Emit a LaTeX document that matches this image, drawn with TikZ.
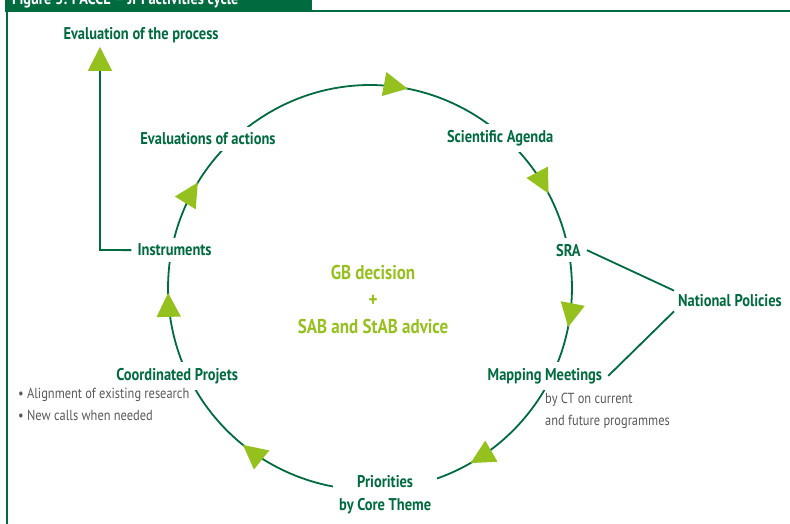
\documentclass[tikz,border=0pt]{standalone}
\usepackage{fontspec}
\setmainfont{PT Sans}[FakeStretch=0.85]
\usetikzlibrary{arrows.meta,decorations.markings}
\definecolor{jpigreen}{HTML}{006B3F}
\definecolor{jpilime}{HTML}{95C11F}
\definecolor{jpigrey}{HTML}{595959}
\pgfdeclarelayer{back}
\pgfsetlayers{back,main}

\begin{document}
\begin{tikzpicture}[x=1pt,y=1pt,>={Triangle[length=24pt,width=24pt,color=jpilime]},
  stage/.style={font=\bfseries\fontsize{17}{23}\selectfont,text=jpigreen,fill=white,inner sep=6pt,align=center},
  note/.style={font=\fontsize{14.6}{22}\selectfont,text=jpigrey,align=left,inner sep=0pt},
  link/.style={draw=jpigreen,line width=1.8pt},
  tipat/.style={decoration={markings,mark=at position #1 with {\arrow{>}}},postaction={decorate}}]
  \useasboundingbox (0,0) rectangle (790,524);
  % frame and title bar
  \fill[jpigreen] (5,512) rectangle (312,524);
  \begin{scope}
    \clip (5,512) rectangle (312,524);
    \node[anchor=base west,text=white,font=\bfseries\fontsize{17}{18}\selectfont,inner sep=0pt] (title) at (12,519) {Figure 3: FACCE -- JPI activities cycle};
  \end{scope}
  \draw[jpigreen,line width=2.5pt] (7,512) -- (7,0);
  \draw[jpigreen,line width=2.5pt] (312,512.75) -- (790,512.75);

  \coordinate (c) at (370,236);
  \foreach \ang/\name in {133.5/pEva,48/pSag,10.8/pSra,-25.8/pMap,-85.7/pPri,205.8/pCoo,169.2/pIns}
    \path (c) ++(\ang:202) coordinate (\name);

  \node[stage,xshift=-23pt,yshift=2.5pt] (eva) at (pEva) {Evaluations of actions};
  \node[stage,xshift=-5pt] (sag) at (pSag) {Scientific Agenda};
  \node[stage] (sra) at (pSra) {SRA};
  \node[stage,xshift=-7pt] (map) at (pMap) {Mapping Meetings};
  \node[stage,yshift=-5.5pt] (pri) at (pPri) {Priorities\\by Core Theme};
  \node[stage,xshift=-11pt] (coo) at (pCoo) {Coordinated Projets};
  \node[stage,xshift=3pt] (ins) at (pIns) {Instruments};
  \node[stage,inner sep=4pt] (nat) at (730,223) {National Policies};
  \node[stage,inner sep=4pt] (evp) at (141,489) {Evaluation of the process};
  \node[stage,fill=none,text=jpilime,font=\bfseries\fontsize{20}{27}\selectfont] (gb) at (373,224) {GB decision\\+\\SAB and StAB advice};
  \node[note,anchor=north west] (mapnote) at (545,131) {by CT on current\\and future programmes};
  \node[note,anchor=north west] (coonote) at (18,136) {\textbullet\ Alignment of existing research\\\textbullet\ New calls when needed};

  \begin{pgfonlayer}{back}
    \path[link]
      (pEva) edge[bend left=42.75,tipat=0.634] (pSag)
      (pSag) edge[bend left=18.6,looseness=0.87,tipat=0.54] (pSra)
      (pSra) edge[bend left=18.3,looseness=0.87,tipat=0.6] (pMap)
      (pMap) edge[bend left=30,looseness=0.91,tipat=0.573] (pPri)
      (pPri) edge[bend left=34.25,looseness=0.93,tipat=0.632] (pCoo)
      (pCoo) edge[bend left=18.3,looseness=0.87,tipat=0.667] (pIns)
      (pIns) edge[bend left=17.85,looseness=0.87,tipat=0.58] (pEva);
  \end{pgfonlayer}

  \draw[link] (sra.east) -- (nat.north west);
  \draw[link] (nat.south west) -- (map.east);
  \coordinate (corner) at (100,274);
  \draw[link,->] (ins.west) -- (corner) -- (corner |- evp.south);
\end{tikzpicture}
\end{document}
